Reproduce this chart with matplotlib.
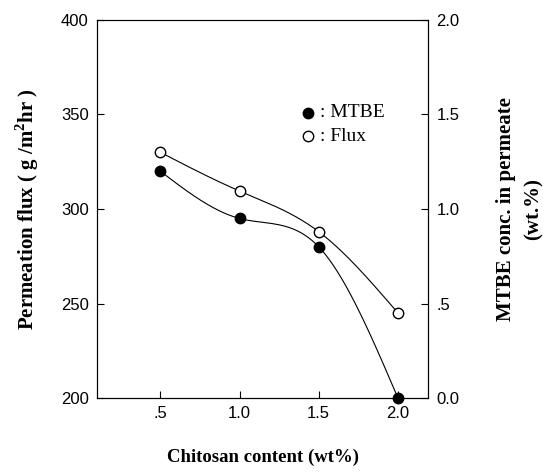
import matplotlib
matplotlib.use('Agg')
import matplotlib.pyplot as plt
import numpy as np

# data
chitosan = [0.5, 1.0, 1.5, 2.0]
flux = [330, 309.5, 288, 245]        # g/m2hr, left axis
mtbe = [1.20, 0.95, 0.80, 0.0]       # wt.%, right axis


def smooth(x, y, n=200):
    # natural cubic spline through the points, only for drawing the line
    x = np.asarray(x, float)
    y = np.asarray(y, float)
    k = len(x)
    h = np.diff(x)
    A = np.zeros((k, k))
    b = np.zeros(k)
    A[0, 0] = A[-1, -1] = 1
    for i in range(1, k - 1):
        A[i, i - 1] = h[i - 1]
        A[i, i] = 2 * (h[i - 1] + h[i])
        A[i, i + 1] = h[i]
        b[i] = 6 * ((y[i + 1] - y[i]) / h[i] - (y[i] - y[i - 1]) / h[i - 1])
    M = np.linalg.solve(A, b)
    xs = np.linspace(x[0], x[-1], n)
    idx = np.clip(np.searchsorted(x, xs) - 1, 0, k - 2)
    x0, x1 = x[idx], x[idx + 1]
    hh = x1 - x0
    ys = (M[idx] * (x1 - xs) ** 3 / (6 * hh) + M[idx + 1] * (xs - x0) ** 3 / (6 * hh)
          + (y[idx] / hh - M[idx] * hh / 6) * (x1 - xs)
          + (y[idx + 1] / hh - M[idx + 1] * hh / 6) * (xs - x0))
    return xs, ys


fig = plt.figure(figsize=(5.52, 4.75), dpi=100)
ax = fig.add_axes([0.1757, 0.1621, 0.5997, 0.7958])
ax2 = ax.twinx()

xs, ys = smooth(chitosan, flux)
ax.plot(xs, ys, color='black', lw=0.8)
ax.plot(chitosan, flux, 'o', ms=7.5, mfc='white', mec='black', mew=1.0, zorder=5)

xs, ys = smooth(chitosan, mtbe)
ax2.plot(xs, ys, color='black', lw=0.8)
ax2.plot(chitosan, mtbe, 'o', ms=7.5, mfc='black', mec='black', clip_on=False, zorder=5)

ax.set_xlim(0.1, 2.19)
ax.set_ylim(200, 400)
ax2.set_ylim(0, 2.0)

ax.set_xticks([0.5, 1.0, 1.5, 2.0])
ax.set_xticklabels(['.5', '1.0', '1.5', '2.0'])
ax.set_yticks([200, 250, 300, 350, 400])
ax2.set_yticks([0, 0.5, 1.0, 1.5, 2.0])
ax2.set_yticklabels(['0.0', '.5', '1.0', '1.5', '2.0'])

for lab in ax.get_xticklabels() + ax.get_yticklabels() + ax2.get_yticklabels():
    lab.set_fontfamily('Liberation Sans')
    lab.set_fontsize(12)

ax.tick_params(direction='in', length=5, width=0.8, pad=6)
ax2.tick_params(direction='in', length=5, width=0.8, pad=6)
for a in (ax, ax2):
    for s in a.spines.values():
        s.set_linewidth(0.8)

ax.set_xlabel('Chitosan content (wt%)', labelpad=20,
              family='Liberation Serif', weight='bold', size=13.5)
ax.set_ylabel('Permeation flux ( g /m$^{\\mathregular{2}}$hr )', labelpad=14,
              family='Liberation Serif', weight='bold', size=15)
ax2.set_ylabel('MTBE conc. in permeate\n(wt.%)', labelpad=26, linespacing=1.55,
               family='Liberation Serif', weight='bold', size=15)

# legend drawn as text with markers
ax.plot([1.43], [351], 'o', ms=7.5, mfc='black', mec='black')
ax.plot([1.43], [338.5], 'o', ms=7.5, mfc='white', mec='black')
ax.text(1.51, 351, ': MTBE', va='center', ha='left', family='Liberation Serif', size=14)
ax.text(1.51, 338.5, ': Flux', va='center', ha='left', family='Liberation Serif', size=14)

fig.savefig('out.png', dpi=100)
